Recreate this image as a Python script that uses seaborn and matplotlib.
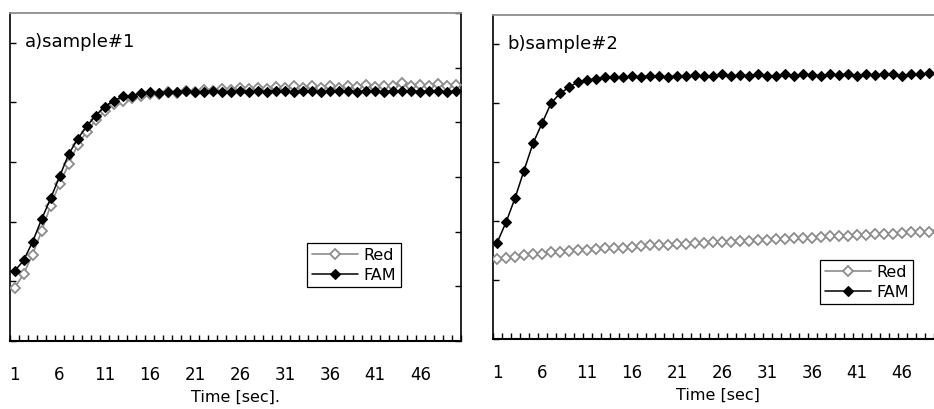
import numpy as np
import pandas as pd
import matplotlib
matplotlib.use("Agg")
import matplotlib.pyplot as plt
import seaborn as sns

# ---------------- data ----------------
time_sec = list(range(1, 51))
tick_labels = ["1", "6", "11", "16", "21", "26", "31", "36", "41", "46"]

s1_fam = [1.17, 1.35, 1.66, 2.04, 2.39, 2.76, 3.13, 3.39, 3.60, 3.78,
          3.93, 4.03, 4.10, 4.11, 4.16, 4.17, 4.16, 4.18, 4.17, 4.19,
          4.17, 4.18, 4.19, 4.17, 4.18, 4.20, 4.18, 4.19, 4.18, 4.20,
          4.19, 4.18, 4.20, 4.19, 4.18, 4.20, 4.19, 4.20, 4.18, 4.20,
          4.19, 4.18, 4.20, 4.19, 4.20, 4.18, 4.20, 4.19, 4.18, 4.19]
s1_red = [0.89, 1.12, 1.45, 1.84, 2.27, 2.64, 2.96, 3.29, 3.51, 3.70,
          3.86, 3.98, 4.03, 4.08, 4.11, 4.14, 4.15, 4.17, 4.16, 4.19,
          4.18, 4.21, 4.19, 4.22, 4.21, 4.24, 4.22, 4.25, 4.23, 4.26,
          4.24, 4.27, 4.24, 4.28, 4.25, 4.27, 4.25, 4.28, 4.26, 4.29,
          4.26, 4.28, 4.27, 4.32, 4.27, 4.30, 4.27, 4.31, 4.28, 4.30]
s2_fam = [1.63, 1.98, 2.39, 2.86, 3.32, 3.66, 4.00, 4.17, 4.27, 4.37,
          4.39, 4.42, 4.44, 4.45, 4.44, 4.46, 4.45, 4.47, 4.46, 4.45,
          4.47, 4.46, 4.48, 4.46, 4.47, 4.49, 4.46, 4.48, 4.47, 4.49,
          4.47, 4.46, 4.49, 4.47, 4.50, 4.48, 4.47, 4.49, 4.48, 4.50,
          4.47, 4.49, 4.48, 4.50, 4.49, 4.47, 4.50, 4.49, 4.51, 4.50]
s2_red = [1.36, 1.38, 1.40, 1.43, 1.45, 1.44, 1.47, 1.48, 1.50, 1.51,
          1.51, 1.53, 1.54, 1.55, 1.55, 1.57, 1.58, 1.59, 1.60, 1.60,
          1.61, 1.62, 1.63, 1.63, 1.64, 1.65, 1.65, 1.66, 1.67, 1.68,
          1.68, 1.69, 1.70, 1.71, 1.71, 1.72, 1.73, 1.74, 1.74, 1.75,
          1.76, 1.77, 1.78, 1.78, 1.79, 1.80, 1.81, 1.81, 1.82, 1.83]

panel_titles = ["a)sample#1", "b)sample#2"]
x_labels = ["Time [sec].", "Time [sec]"]
series_names = ["Red", "FAM"]

# ---------------- style ----------------
sns.set_theme(style="white")
plt.rcParams["font.family"] = ["DejaVu Sans"]
plt.rcParams["text.color"] = "black"
plt.rcParams["axes.labelcolor"] = "black"
plt.rcParams["xtick.color"] = "black"
plt.rcParams["ytick.color"] = "black"

fig = plt.figure(figsize=(9.34, 4.09), dpi=100)
W, H = 934.0, 409.0
ax1 = fig.add_axes([10 / W, 68 / H, 451 / W, 328 / H])
ax2 = fig.add_axes([492.5 / W, 70 / H, 450 / W, 324 / H])

panels = [
    (ax1, s1_red, s1_fam, panel_titles[0], x_labels[0], (0.659, 0.299), -0.150),
    (ax2, s2_red, s2_fam, panel_titles[1], x_labels[1], (0.728, 0.244), -0.150),
]

for ax, red, fam, title, xlab, leg_pos, lab_y in panels:
    df = pd.DataFrame({"t": time_sec, "Red": red, "FAM": fam})
    sns.lineplot(data=df, x="t", y="Red", ax=ax, color="#8c8c8c",
                 linewidth=1.2, marker="D", markersize=5.2,
                 markerfacecolor="white", markeredgecolor="#8c8c8c",
                 markeredgewidth=1.3, label=series_names[0], zorder=3)
    sns.lineplot(data=df, x="t", y="FAM", ax=ax, color="black",
                 linewidth=1.1, marker="D", markersize=5.3,
                 markerfacecolor="black", markeredgecolor="black",
                 markeredgewidth=0.8, label=series_names[1], zorder=4)

    ax.set_xlim(0.5, 50.5)
    ax.set_ylim(0, 5.5)
    ax.set_ylabel("")
    ax.set_xlabel(xlab, fontsize=11.5, color="black")
    ax.xaxis.set_label_coords(0.5, lab_y)

    # category labels, tick marks between categories
    ax.set_xticks(time_sec[::5])
    ax.set_xticklabels(tick_labels, fontsize=12, color="black")
    ax.set_xticks(np.arange(0.5, 51, 1.0), minor=True)
    ax.tick_params(axis="x", which="major", length=0, pad=18)
    ax.tick_params(axis="x", which="minor", bottom=True, direction="in",
                   length=4.5, width=1.0, color="black")

    ax.set_yticks(range(0, 6))
    ax.set_yticklabels([])
    ax.tick_params(axis="y", which="major", left=True, right=False,
                   direction="in", length=4.5, width=1.0, color="black")

    for side in ["left", "right", "bottom"]:
        ax.spines[side].set_color("black")
        ax.spines[side].set_linewidth(1.2)
    ax.spines["bottom"].set_linewidth(1.5)
    ax.spines["top"].set_color("#8c8c8c")
    ax.spines["top"].set_linewidth(1.3)
    ax.grid(False)

    # secondary axis ticks on right side
    tw = ax.twinx()
    tw.set_ylim(0, 6)
    tw.set_yticks(range(0, 7))
    tw.set_yticklabels([])
    tw.tick_params(axis="y", right=True, direction="in", length=4.5,
                   width=1.0, color="black")
    for s in tw.spines.values():
        s.set_visible(False)
    tw.grid(False)

    ax.text(0.034, 0.912, title, transform=ax.transAxes, fontsize=13,
            ha="left", va="center", color="black")

    leg = ax.legend(loc="upper left", bbox_to_anchor=leg_pos,
                    frameon=True, fancybox=False, edgecolor="black",
                    framealpha=1, fontsize=11.5, handlelength=2.9,
                    borderpad=0.3, labelspacing=0.3, handletextpad=0.3,
                    borderaxespad=0)
    leg.get_frame().set_linewidth(0.9)
    for t in leg.get_texts():
        t.set_color("black")
    ax.set_zorder(tw.get_zorder() + 1)
    ax.patch.set_visible(False)

fig.savefig("out.png", dpi=100)
